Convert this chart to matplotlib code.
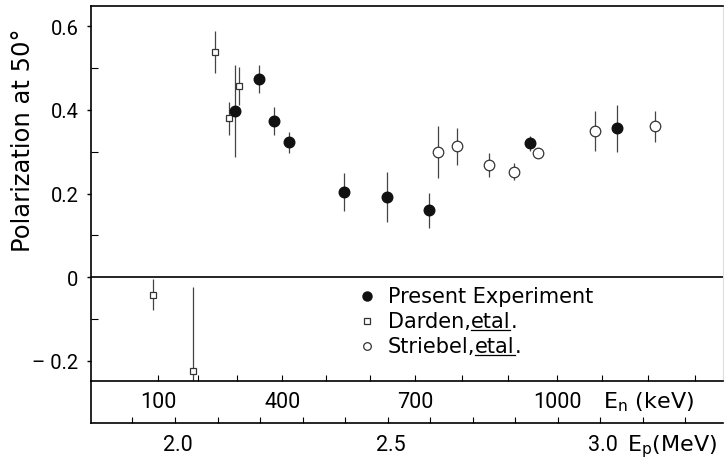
import matplotlib
matplotlib.use("Agg")
import matplotlib.pyplot as plt
from matplotlib.lines import Line2D

plt.rcParams["font.family"] = ["DejaVu Sans"]
NUM_FONT = ["Roboto", "DejaVu Sans"]

# x positions are proton energy Ep (MeV), y is polarization at 50 deg
present_ep = [2.141, 2.197, 2.233, 2.269, 2.398, 2.498, 2.598, 2.834, 3.039]
present_p = [0.397, 0.474, 0.373, 0.323, 0.204, 0.191, 0.160, 0.320, 0.356]
present_err = [0.11, 0.033, 0.033, 0.025, 0.046, 0.06, 0.042, 0.018, 0.057]

darden_ep = [1.948, 2.042, 2.094, 2.127, 2.150]
darden_p = [-0.042, -0.224, 0.539, 0.380, 0.458]
darden_err = [0.037, 0.20, 0.05, 0.04, 0.045]

striebel_ep = [2.618, 2.664, 2.739, 2.798, 2.855, 2.988, 3.129]
striebel_p = [0.299, 0.313, 0.269, 0.252, 0.297, 0.350, 0.361]
striebel_err = [0.062, 0.044, 0.029, 0.02, 0.008, 0.048, 0.037]

# neutron energy scale (keV) and where its ticks fall on the Ep scale
en_ticks = [100, 200, 300, 400, 500, 600, 700, 800, 900, 1000, 1100, 1200, 1300]
en_tick_ep = [1.960, 2.054, 2.146, 2.252, 2.355, 2.459, 2.565, 2.675, 2.784,
              2.899, 3.005, 3.113, 3.224]
en_shown = [100, 400, 700, 1000]

ep_ticks = [1.9, 2.0, 2.1, 2.2, 2.3, 2.4, 2.5, 2.6, 2.7, 2.8, 2.9, 3.0, 3.1, 3.2]
ep_shown = [2.0, 2.5, 3.0]

y_major = [-0.2, 0.0, 0.2, 0.4, 0.6]
y_labels = ["\u2013 0.2", "0", "0.2", "0.4", "0.6"]
y_minor = [-0.1, 0.1, 0.3, 0.5]

XLIM = (1.8024, 3.289)
YLIM = (-0.249, 0.649)
W, H = 725, 464
LW = 1.2

fig = plt.figure(figsize=(W / 100, H / 100), dpi=100)
ax = fig.add_axes([91 / W, 1 - 382 / H, 632 / W, 375 / H])
ax2 = fig.add_axes([91 / W, 1 - 424 / H, 632 / W, 42 / H])

for a in (ax, ax2):
    a.set_xlim(*XLIM)
    for s in a.spines.values():
        s.set_linewidth(LW)
ax.spines["right"].set_color("#dddddd")
ax.spines["right"].set_linewidth(0.8)
ax2.set_ylim(0, 1)
ax2.set_yticks([])
ax2.spines["top"].set_visible(False)
ax2.spines["right"].set_visible(False)
ax2.patch.set_alpha(0)

ax.set_ylim(*YLIM)
ax.axhline(0, color="k", lw=LW)
ax.set_yticks(y_major)
ax.set_yticklabels(y_labels, fontsize=14.5, family=NUM_FONT)
ax.set_yticks(y_minor, minor=True)
ax.tick_params(axis="y", which="major", direction="out", length=3, width=1, pad=6)
ax.tick_params(axis="y", which="minor", direction="in", length=5, width=0.8)

# tick marks on both energy scales point up; labels placed by hand
ax.set_xticks(en_tick_ep)
ax.set_xticklabels([])
ax.tick_params(axis="x", direction="in", length=4, width=0.8)
ax2.set_xticks(ep_ticks)
ax2.set_xticklabels([])
ax2.tick_params(axis="x", direction="in", length=4, width=0.8)

for e, ep in zip(en_ticks, en_tick_ep):
    if e in en_shown:
        ax.annotate(str(e), xy=(ep, 0), xycoords=("data", "axes fraction"),
                    xytext=(0, -26), textcoords="offset pixels", ha="center",
                    va="baseline", fontsize=15.5, family=NUM_FONT)
for ep in ep_shown:
    ax2.annotate(f"{ep:.1f}", xy=(ep, 0), xycoords=("data", "axes fraction"),
                 xytext=(3, -27), textcoords="offset pixels", ha="center",
                 va="baseline", fontsize=15.5, family=NUM_FONT)

ax.annotate("E$_\\mathrm{n}$ (keV)", xy=(3.007, 0), xycoords=("data", "axes fraction"),
            xytext=(0, -26), textcoords="offset pixels", ha="left", va="baseline",
            fontsize=16)
ax2.annotate("E$_\\mathrm{p}$(MeV)", xy=(3.064, 0), xycoords=("data", "axes fraction"),
             xytext=(0, -27), textcoords="offset pixels", ha="left", va="baseline",
             fontsize=16)

ekw = dict(ecolor="#444444", elinewidth=0.9, capsize=0, linestyle="none")
ax.errorbar(darden_ep, darden_p, yerr=darden_err, fmt="s", ms=4.8, mfc="white",
            mec="#333333", mew=0.9, **ekw)
ax.errorbar(striebel_ep, striebel_p, yerr=striebel_err, fmt="o", ms=7.6, mfc="white",
            mec="#333333", mew=0.9, **ekw)
ax.errorbar(present_ep, present_p, yerr=present_err, fmt="o", ms=7.6, mfc="#111111",
            mec="#111111", **ekw)

fig.text(23 / W, 1 - 140 / H, "Polarization at 50\u00b0", rotation=90,
         ha="center", va="center", fontsize=17.5)

# hand-made legend
FS = 15
lx, tx = 2.452, 2.501
rows = [-0.0455, -0.1054, -0.1653]
ax.plot([lx], [rows[0]], "o", ms=6.5, color="#111111")
ax.plot([lx], [rows[1]], "s", ms=4.8, mfc="white", mec="#333333", mew=0.9)
ax.plot([lx], [rows[2]], "o", ms=5.5, mfc="white", mec="#333333", mew=0.9)
ax.text(tx, rows[0], "Present Experiment", va="center", fontsize=FS)
underlined = []
for yy, name in zip(rows[1:], ["Darden,", "Striebel,"]):
    t1 = ax.text(tx, yy, name, va="center", fontsize=FS)
    t2 = ax.annotate("etal", xy=(1, 0), xycoords=t1, va="bottom", ha="left", fontsize=FS)
    ax.annotate(".", xy=(1, 0), xycoords=t2, va="bottom", ha="left", fontsize=FS)
    underlined.append(t2)

fig.canvas.draw()
r = fig.canvas.get_renderer()
for t in underlined:
    bb = t.get_window_extent(r)
    y0 = bb.y0 + 1
    fig.add_artist(Line2D([bb.x0 / W, bb.x1 / W], [y0 / H, y0 / H], color="k", lw=0.9))

fig.savefig("out.png", dpi=100)
